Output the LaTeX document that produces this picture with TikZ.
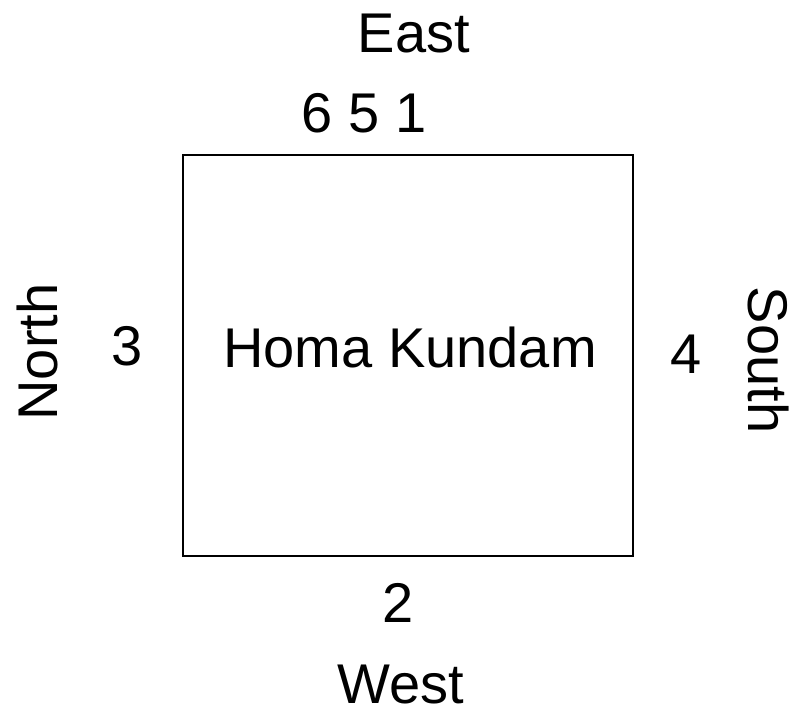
\documentclass[tikz,border=0pt]{standalone}
\usepackage{fontspec}
\setmainfont{Liberation Sans}
\begin{document}
\begin{tikzpicture}[x=1pt,y=-1pt,
  lbl/.style={anchor=base,inner sep=0pt,text depth=0pt,font=\fontsize{56}{60}\selectfont},
  box/.style={draw,line width=1.8pt,minimum width=450pt,minimum height=401pt,inner sep=0pt}]
\useasboundingbox (0,0) rectangle (795,711);
\node[box] (kund) at (408,355.5) {};
\node[lbl] (title) at (410,367) {Homa Kundam};
\node[lbl] (east) at (414,52.5) {East};
\node[lbl] (nums) at (364,133) {6 5 1};
\node[lbl] (three) at (127,365) {3};
\node[lbl] (four) at (686,373) {4};
\node[lbl] (two) at (398,622) {2};
\node[lbl] (west) at (401,703) {West};
\node[lbl,rotate=90] (north) at (57,352) {North};
\node[lbl,rotate=-90] (south) at (748,360) {South};
\end{tikzpicture}
\end{document}
